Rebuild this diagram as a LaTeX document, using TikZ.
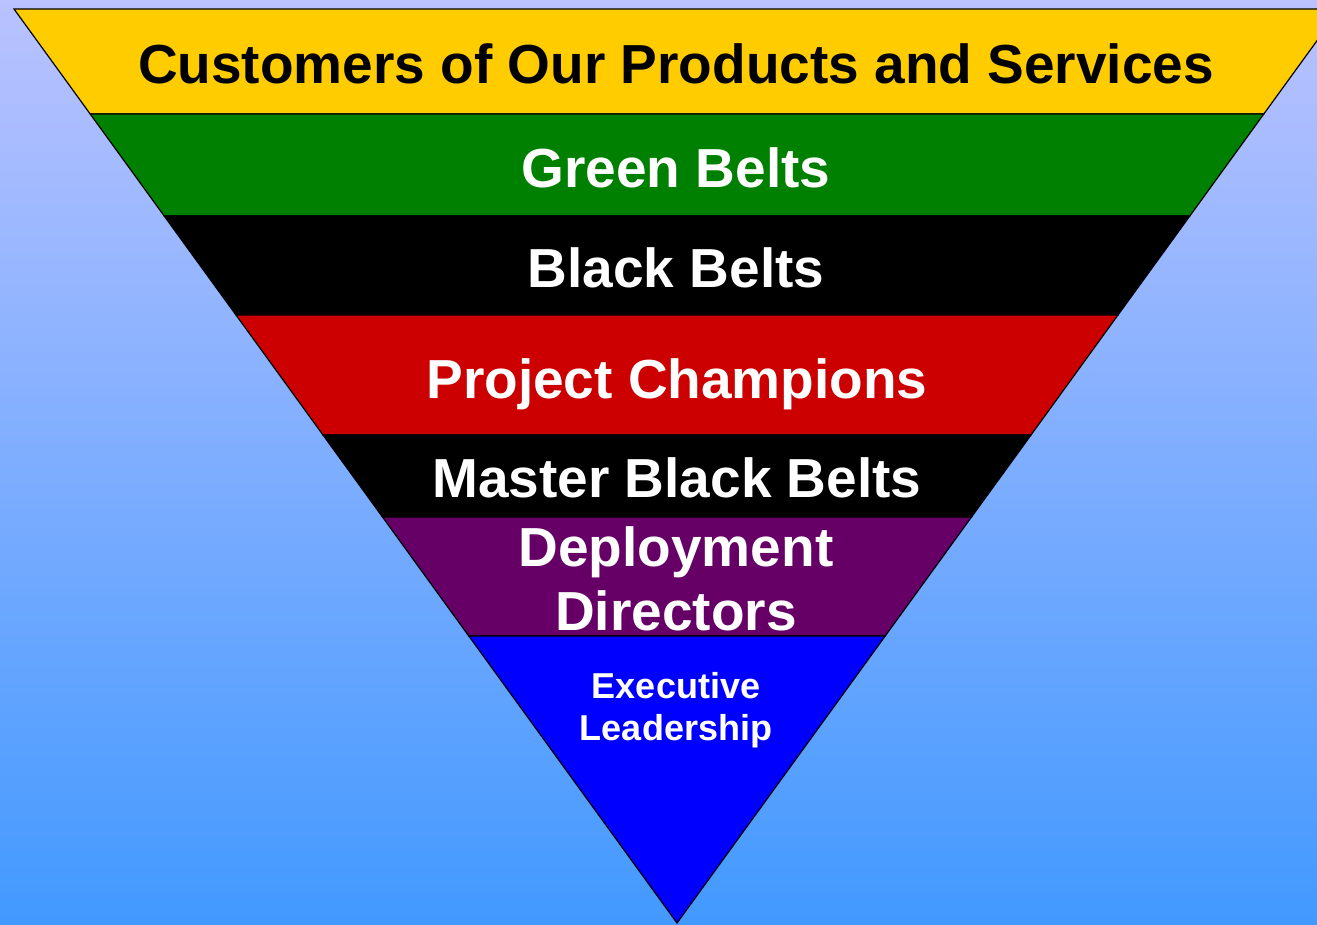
\documentclass[tikz,border=0pt]{standalone}
\usepackage{fontspec}
\setmainfont{Liberation Sans}
\definecolor{skytop}{RGB}{186,194,255}
\definecolor{skybot}{RGB}{66,153,255}
\definecolor{custyellow}{RGB}{255,204,0}
\definecolor{beltgreen}{RGB}{0,128,0}
\definecolor{champred}{RGB}{204,0,0}
\definecolor{deplpurple}{RGB}{102,0,102}
\definecolor{execblue}{RGB}{0,0,255}
\tikzset{
  band/.style={draw=black,line width=1.2pt,line join=miter},
  lbl/.style={font=\bfseries\fontsize{55}{64}\selectfont,text=white,align=center,anchor=base,inner sep=0pt},
  smalllbl/.style={lbl,font=\bfseries\fontsize{36}{42}\selectfont}
}
\begin{document}
\begin{tikzpicture}[x=1pt,y=-1pt]
\useasboundingbox (0,0) rectangle (1317,925);
\clip (0,0) rectangle (1317,925);
\shade[top color=skytop,bottom color=skybot] (0,0) rectangle (1317,925);

% bands of the funnel, top to bottom
\filldraw[band,fill=custyellow] (14,9) -- (1340,9) -- (1263.8,114) -- (90.2,114) -- cycle;
\filldraw[band,fill=beltgreen] (90.2,114) -- (1263.8,114) -- (1189.8,216) -- (164.2,216) -- cycle;
\filldraw[band,fill=black] (164.2,216) -- (1189.8,216) -- (1118,315) -- (236,315) -- cycle;
\filldraw[band,fill=champred] (236,315) -- (1118,315) -- (1031,435) -- (323,435) -- cycle;
\filldraw[band,fill=black] (323,435) -- (1031,435) -- (971.5,517) -- (382.5,517) -- cycle;
\filldraw[band,fill=deplpurple] (382.5,517) -- (971.5,517) -- (885.2,636) -- (468.8,636) -- cycle;
\filldraw[band,fill=execblue] (468.8,636) -- (885.2,636) -- (677,923) -- cycle;

% labels (base of a two-line label = its last line)
\node[lbl,text=black] (cust) at (676,84) {Customers of Our Products and Services};
\node[lbl] (green) at (676,188) {Green Belts};
\node[lbl] (black) at (676,288) {Black Belts};
\node[lbl] (champ) at (677,398) {Project Champions};
\node[lbl] (master) at (677,497) {Master Black Belts};
\node[lbl] (depl) at (676,630) {Deployment\\Directors};
\node[smalllbl] (exec) at (676,740) {Executive\\Leadership};
\end{tikzpicture}
\end{document}
